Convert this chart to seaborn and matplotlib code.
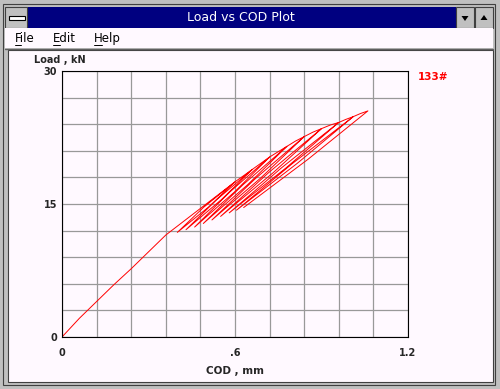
import matplotlib
matplotlib.use("Agg")
import matplotlib.pyplot as plt
from matplotlib.patches import Rectangle, Polygon
import seaborn as sns
import pandas as pd

# ── Data: load vs crack opening displacement, with unload/reload cycles ──────
cod = [0, 0.06, 0.12, 0.18, 0.24, 0.30, 0.36, 0.42, 0.48, 0.54, 0.60,
       0.508, 0.40, 0.492, 0.60, 0.63, 0.66,
       0.553, 0.43, 0.537, 0.66, 0.69, 0.72,
       0.598, 0.46, 0.582, 0.72, 0.75, 0.78,
       0.643, 0.49, 0.627, 0.78, 0.81, 0.84,
       0.688, 0.52, 0.672, 0.84, 0.87, 0.90,
       0.733, 0.55, 0.717, 0.90, 0.93, 0.96,
       0.778, 0.58, 0.762, 0.96, 0.985, 1.01,
       0.8155, 0.605, 0.7995, 1.01, 1.035, 1.061,
       0.8535, 0.63]
load = [0, 2.1, 4.0, 5.9, 7.7, 9.6, 11.5, 13.0, 14.5, 16.0, 17.5,
        14.65, 11.8, 14.65, 17.5, 18.2, 18.9,
        15.5, 12.1, 15.5, 18.9, 19.6, 20.3,
        16.35, 12.4, 16.35, 20.3, 20.9, 21.5,
        17.15, 12.8, 17.15, 21.5, 22.1, 22.6,
        17.9, 13.2, 17.9, 22.6, 23.1, 23.5,
        18.55, 13.6, 18.55, 23.5, 23.9, 24.2,
        19.1, 14.0, 19.1, 24.2, 24.55, 24.85,
        19.575, 14.3, 19.575, 24.85, 25.2, 25.5,
        20.05, 14.6]

x_grid = [0, 0.12, 0.24, 0.36, 0.48, 0.6, 0.72, 0.84, 0.96, 1.08, 1.2]
x_labels = ["0", "", "", "", "", ".6", "", "", "", "", "1.2"]
y_grid = [0, 3, 6, 9, 12, 15, 18, 21, 24, 27, 30]
y_labels = ["0", "", "", "", "", "15", "", "", "", "", "30"]

df = pd.DataFrame({"cod": cod, "load": load})

sns.set_theme(style="white")
plt.rcParams["font.family"] = ["DejaVu Sans"]

W, H = 500, 389
fig = plt.figure(figsize=(W / 100, H / 100), dpi=100)
fig.patch.set_facecolor("#C0C0C0")

# ── Window chrome (pixel coordinates) ────────────────────────────────────────
client = "#FFF9FF"
bg = fig.add_axes([0, 0, 1, 1])
bg.set_xlim(0, W)
bg.set_ylim(H, 0)
bg.axis("off")

bg.add_patch(Rectangle((3, 4), 492, 381, fc="#C0C0C0", ec="#404040", lw=0.8))
bg.add_patch(Rectangle((27, 7), 429, 21, fc="#000080", ec="none"))
bg.add_patch(Rectangle((5, 7), 22, 21, fc="#C0C0C0", ec="#404040", lw=0.8))
bg.add_patch(Rectangle((9, 16), 16, 4, fc="white", ec="black", lw=0.8))
for bx, up in [(456, False), (475, True)]:
    bg.add_patch(Rectangle((bx, 7), 18, 21, fc="#C0C0C0", ec="#404040", lw=0.8))
    cx = bx + 9
    if up:
        tri = [(cx - 3.5, 20), (cx + 3.5, 20), (cx, 15)]
    else:
        tri = [(cx - 3.5, 16), (cx + 3.5, 16), (cx, 21)]
    bg.add_patch(Polygon(tri, fc="black", ec="none"))
bg.text(241, 17.5, "Load vs COD Plot", color="white", fontsize=9,
        ha="center", va="center")

bg.add_patch(Rectangle((5, 28), 488, 20, fc=client, ec="none"))
bg.plot([5, 493], [48.5, 48.5], color="#606060", lw=1)
for mx, word, uw in [(15, "File", 6), (53, "Edit", 7), (94, "Help", 8)]:
    bg.text(mx, 38.5, word, fontsize=8.5, ha="left", va="center", color="black")
    bg.plot([mx, mx + uw], [44.5, 44.5], color="black", lw=0.7)

bg.add_patch(Rectangle((8, 50), 485, 332, fc=client, ec="#404040", lw=0.8))
bg.text(34, 60, "Load , kN", fontsize=7, fontweight="bold", ha="left", va="center")
bg.text(235, 371, "COD , mm", fontsize=7.5, fontweight="bold", ha="center",
        va="center")
bg.text(418, 77, "133#", fontsize=7.5, fontweight="bold", color="red",
        ha="left", va="center")

# ── Plot area ────────────────────────────────────────────────────────────────
ax = fig.add_axes([62 / W, 52 / H, 346 / W, 266 / H])
ax.set_facecolor(client)
sns.lineplot(data=df, x="cod", y="load", sort=False, estimator=None,
             color="#FF0000", lw=0.7, ax=ax)
ax.set_xlim(0, 1.2)
ax.set_ylim(0, 30)
ax.set_xticks(x_grid, x_labels)
ax.set_yticks(y_grid, y_labels)
ax.grid(True, color="#999999", lw=0.9)
ax.tick_params(length=0, labelsize=7)
ax.tick_params(axis="x", pad=8)
ax.tick_params(axis="y", pad=3.5)
for lab in ax.get_xticklabels() + ax.get_yticklabels():
    lab.set_fontweight("bold")
ax.set_xlabel("")
ax.set_ylabel("")
for sp in ax.spines.values():
    sp.set_color("black")
    sp.set_linewidth(0.8)

fig.savefig("out.png", dpi=100, facecolor=fig.get_facecolor())
